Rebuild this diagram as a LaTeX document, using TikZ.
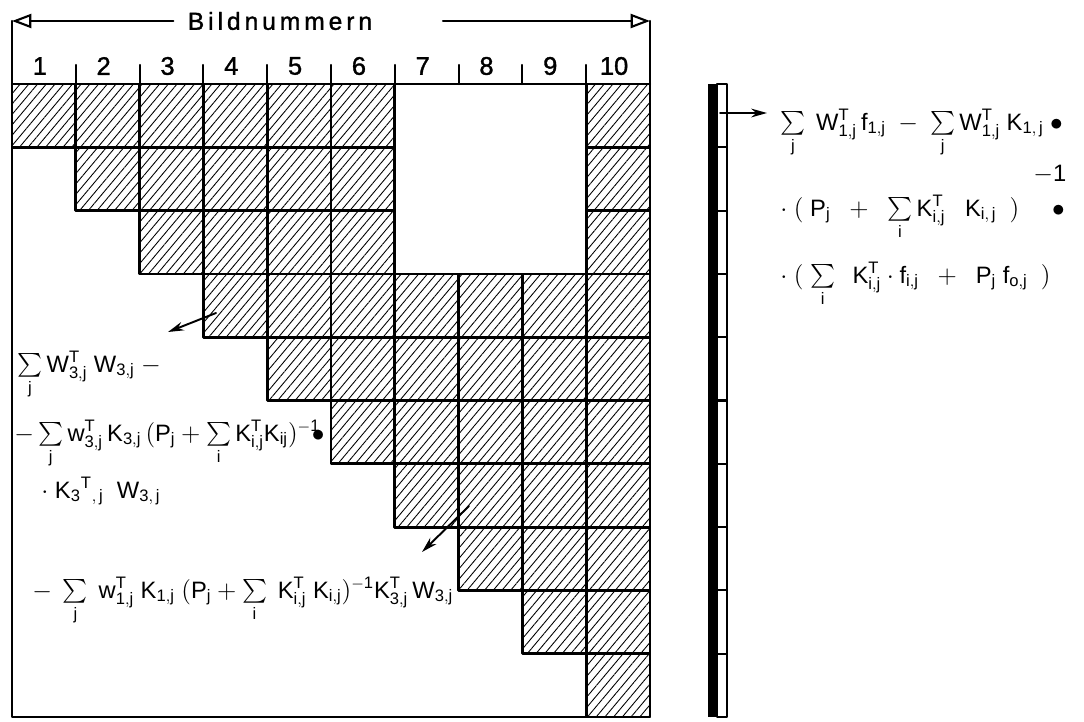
\documentclass[tikz,border=0pt]{standalone}
\usepackage{amsmath,amssymb}
\usepackage{fontspec}
\setmainfont{Liberation Sans}
\setsansfont{Liberation Sans}
\usepackage{tikz}
\usetikzlibrary{calc,arrows.meta,patterns.meta}

\begin{document}
\begin{tikzpicture}[>=Stealth, line cap=round, line join=round, x=0.2mm, y=-0.2mm]
\def\cw{63.8}
\def\rh{63.3}
\def\xo{12}
\def\yo{84}
\tikzset{
  cell/.style={draw, line width=1.6pt, pattern={Lines[angle=50, distance=3.8pt, line width=0.5pt]}},
  frm/.style={line width=1.4pt},
  tck/.style={line width=1.2pt},
  barseg/.style={draw, line width=1.2pt, fill=white},
  hd/.style={font=\fontsize{14}{16}\selectfont\addfontfeatures{LetterSpace=16,FakeBold=1.3}, inner sep=8pt},
  num/.style={font=\fontsize{14.5}{16}\selectfont\addfontfeatures{FakeBold=1.3}},
  fml/.style={font=\fontsize{13.5}{15}\selectfont, inner sep=0pt, anchor=base west},
  ptr/.style={-{Stealth[length=9pt, width=5pt]}, line width=1.1pt},
  opn/.style={-{Triangle[open, length=11pt, width=8pt]}, line width=1.2pt},
}

\useasboundingbox (0,0) rectangle (1084,721);

% hatched cells, row by row
\foreach \r/\cs in {1/{1,2,3,4,5,6,10}, 2/{2,3,4,5,6,10}, 3/{3,4,5,6,10},
                    4/{4,5,6,7,8,9,10}, 5/{5,6,7,8,9,10}, 6/{6,7,8,9,10},
                    7/{7,8,9,10}, 8/{8,9,10}, 9/{9,10}, 10/{10}}
  \foreach \c in \cs
    \draw[cell] ({\xo+(\c-1)*\cw},{\yo+(\r-1)*\rh}) rectangle ++(\cw,\rh);

% frame and header
\coordinate (tl) at (\xo,21);
\coordinate (tr) at (650,21);
\coordinate (gR) at (443,21);
\draw[frm] (tl) -- (\xo,717) -- (650,717) -- (tr);
\draw[frm] (\xo,\yo) -- (650,\yo);
\foreach \i in {1,...,9}
  \draw[tck] ({\xo+\i*\cw},65) -- ({\xo+\i*\cw},\yo);
\foreach \i in {1,...,10}
  \node[num] (n\i) at ({\xo+(\i-0.5)*\cw-4},66) {\i};

\node[hd] (bn) at (280,21) {Bildnummern};
\draw[opn] (bn) -- (tl);
\draw[opn] (gR) -- (tr);

% result column
\fill (708,\yo) rectangle (717,717);
\foreach \r in {1,...,10}
  \draw[barseg] (717,{\yo+(\r-1)*\rh}) rectangle ++(10,\rh);

% left formulas
\node[fml] (fa) at (17,372) {$\mathsf{\sum\limits_{j} W_{3,j}^{T}\ W_{3,j}\ -}$};
\node[fml] (fb) at (14,441) {$\mathsf{-\sum\limits_{j} w_{3,j}^{T}\,K_{3,j}\,(P_j+\sum\limits_{i} K_{i,j}^{T}K_{ij})^{-1}\!\!\bullet}$};
\node[fml] (fc) at (41,498) {$\mathsf{\cdot\ K_{3}{}^{T}{}_{,\,j}\ \ W_{3,\,j}}$};
\node[fml] (fd) at (32,598) {$\mathsf{-\ \sum\limits_{j}\ w_{1,j}^{T}\ K_{1,j}\ (P_j+\sum\limits_{i}\ K_{i,j}^{T}\ K_{i,j})^{-1}K_{3,j}^{T}\,W_{3,j}}$};

\coordinate (a1s) at (216,313);
\coordinate (a1e) at (168,332);
\coordinate (a2s) at (469,506);
\coordinate (a2e) at (422,552);
\draw[ptr] (a1s) -- (a1e);
\draw[ptr] (a2s) -- (a2e);

% right formulas
\coordinate (bs) at (720,113);
\coordinate (be) at (767,113);
\draw[ptr] (bs) -- (be);
\node[fml] (r1) at (780,130) {$\mathsf{\sum\limits_{j}\ W_{1,j}^{T}\,f_{1,j}\ -\ \sum\limits_{j}W_{1,j}^{T}\ K_{1,\,j}\ \bullet}$};
\node[fml] (rinv) at (1033,181) {$\mathsf{-1}$};
\node[fml] (r2) at (780,216) {$\mathsf{\cdot\ (\ P_j\ \ +\ \ \sum\limits_{i}K_{i,j}^{T}\ \ \ K_{i,\,j}\ \ )\ \ \ \ \ \bullet}$};
\node[fml] (r3) at (780,283) {$\mathsf{\cdot\ (\ \sum\limits_{i}\ \ K^{T}_{i,j}\cdot f_{i,j}\ \ +\ \ P_j\ f_{o,j}\ \ )}$};
\end{tikzpicture}
\end{document}
